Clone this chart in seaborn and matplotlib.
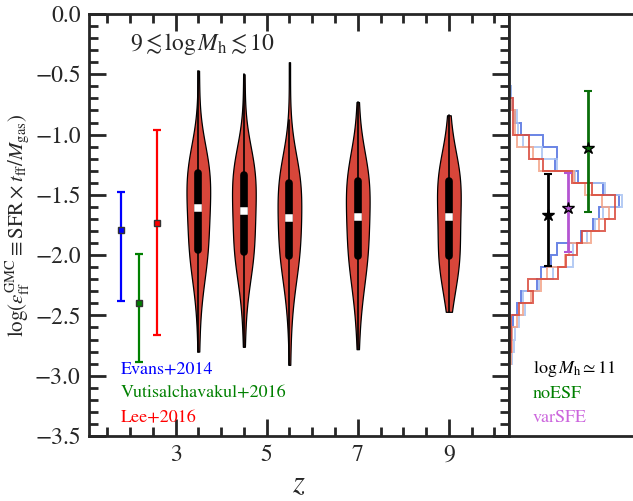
import numpy as np
import pandas as pd
import matplotlib
matplotlib.use("Agg")
import matplotlib.pyplot as plt
import seaborn as sns
from matplotlib.ticker import MultipleLocator

# GMC efficiency samples per redshift (9 < log Mh < 10)
z_vals = [3.5, 4.5, 5.5, 7, 9]
eff_z35 = [-2.80, -2.52, -2.38, -2.29, -2.22, -2.17, -2.13, -2.09, -2.06, -2.03, -2.00, -1.98, -1.96,
           -1.93, -1.90, -1.87, -1.84, -1.81, -1.78, -1.75, -1.72, -1.69, -1.66, -1.635, -1.61,
           -1.585, -1.56, -1.535, -1.51, -1.49, -1.465, -1.44, -1.415, -1.39, -1.37, -1.345, -1.32,
           -1.30, -1.28, -1.26, -1.24, -1.22, -1.19, -1.16, -1.13, -1.09, -1.03, -0.85, -0.47]
eff_z45 = [-2.76, -2.50, -2.37, -2.28, -2.22, -2.17, -2.13, -2.09, -2.06, -2.03, -2.01, -1.99, -1.97,
           -1.94, -1.91, -1.885, -1.86, -1.83, -1.80, -1.77, -1.74, -1.71, -1.685, -1.66, -1.63,
           -1.605, -1.58, -1.555, -1.53, -1.51, -1.485, -1.46, -1.435, -1.41, -1.385, -1.36, -1.335,
           -1.315, -1.295, -1.275, -1.255, -1.235, -1.21, -1.18, -1.15, -1.11, -1.05, -0.87, -0.50]
eff_z55 = [-2.91, -2.60, -2.45, -2.36, -2.29, -2.23, -2.18, -2.14, -2.10, -2.07, -2.04, -2.025, -2.01,
           -1.98, -1.955, -1.93, -1.90, -1.875, -1.85, -1.82, -1.795, -1.77, -1.74, -1.715, -1.69,
           -1.665, -1.64, -1.62, -1.595, -1.57, -1.545, -1.52, -1.495, -1.47, -1.45, -1.425, -1.40,
           -1.38, -1.36, -1.34, -1.32, -1.30, -1.27, -1.24, -1.21, -1.17, -1.10, -0.88, -0.40]
eff_z7 = [-2.78, -2.55, -2.44, -2.36, -2.30, -2.25, -2.20, -2.16, -2.12, -2.09, -2.06, -2.035, -2.01,
          -1.985, -1.96, -1.93, -1.90, -1.875, -1.85, -1.82, -1.79, -1.765, -1.735, -1.71, -1.68,
          -1.655, -1.63, -1.605, -1.58, -1.555, -1.53, -1.51, -1.485, -1.46, -1.435, -1.41, -1.385,
          -1.365, -1.345, -1.325, -1.30, -1.275, -1.25, -1.22, -1.18, -1.14, -1.08, -0.97, -0.73]
eff_z9 = [-2.47, -2.38, -2.32, -2.27, -2.23, -2.19, -2.16, -2.13, -2.10, -2.07, -2.05, -2.03, -2.01,
          -1.985, -1.96, -1.93, -1.90, -1.875, -1.85, -1.82, -1.79, -1.765, -1.735, -1.71, -1.68,
          -1.655, -1.63, -1.605, -1.58, -1.555, -1.53, -1.51, -1.485, -1.46, -1.435, -1.41, -1.385,
          -1.365, -1.345, -1.325, -1.30, -1.275, -1.25, -1.22, -1.19, -1.15, -1.10, -1.00, -0.84]

# observations
obs_names = ["Evans+2014", "Vutisalchavakul+2016", "Lee+2016"]
obs_colors = ["blue", "green", "red"]
obs_z = [1.8, 2.2, 2.6]
obs_val = [-1.79, -2.40, -1.73]
obs_lo = [-2.38, -2.89, -2.66]
obs_hi = [-1.48, -1.99, -0.96]

# log Mh ~ 11 histograms (counts per 0.1 dex bin)
hist_edges = [-2.9, -2.8, -2.7, -2.6, -2.5, -2.4, -2.3, -2.2, -2.1, -2.0, -1.9, -1.8, -1.7,
              -1.6, -1.5, -1.4, -1.3, -1.2, -1.1, -1.0, -0.9, -0.8, -0.7, -0.6, -0.5, -0.4]
hist_blue = [1, 2, 3, 4, 8, 12, 28, 32, 42, 48, 72, 84, 90, 110, 94, 69, 46, 48, 34, 12, 6, 3, 2, 1, 1]
hist_lightblue = [3, 5, 6, 10, 16, 14, 30, 44, 64, 64, 78, 86, 94, 113, 96, 66, 48, 33, 14, 9, 8, 4, 2, 1, 1]
hist_salmon = [2, 3, 3, 8, 14, 22, 32, 38, 56, 60, 82, 90, 100, 93, 76, 65, 30, 24, 8, 6, 6, 2, 0, 0, 0]
hist_red = [0, 2, 2, 2, 10, 24, 19, 49, 57, 68, 73, 96, 106, 106, 83, 63, 34, 20, 20, 4, 4, 4, 0, 0, 0]
hist_colors = ["#4f6fe0", "#a8c2f2", "#f4a488", "#d9483a"]

# log Mh ~ 11 runs
run_names = [r"$\log M_{\rm h} \simeq 11$", "noESF", "varSFE"]
run_colors = ["black", "#0a6e0a", "#b455d2"]
run_text_colors = ["black", "green", "#cc66dd"]
run_x = [39, 79, 59]
run_val = [-1.67, -1.11, -1.61]
run_lo = [-2.09, -1.64, -1.97]
run_hi = [-1.33, -0.64, -1.32]

sns.set_style("ticks")
plt.rcParams["font.family"] = ["STIXGeneral", "DejaVu Serif"]
plt.rcParams["mathtext.fontset"] = "stix"

df = pd.DataFrame({
    "z": np.repeat(z_vals, [len(eff_z35), len(eff_z45), len(eff_z55), len(eff_z7), len(eff_z9)]),
    "logeff": eff_z35 + eff_z45 + eff_z55 + eff_z7 + eff_z9,
})

fig = plt.figure(figsize=(6.33, 5.01), dpi=100)
ax = fig.add_axes([89 / 633, 1 - 436 / 501, 420 / 633, 422 / 501])
axr = fig.add_axes([509 / 633, 1 - 436 / 501, 124 / 633, 422 / 501])

sns.violinplot(data=df, x="z", y="logeff", native_scale=True, orient="x", ax=ax,
               color="#d8463a", saturation=1, linecolor="k", linewidth=0.9, cut=0,
               bw_adjust=1.0, width=0.52, density_norm="width", inner="box",
               inner_kws=dict(box_width=5.5, whis_width=1.2, marker="s"))

for name, c, zz, v, lo, hi in zip(obs_names, obs_colors, obs_z, obs_val, obs_lo, obs_hi):
    ax.errorbar(zz, v, yerr=[[v - lo], [hi - v]], fmt="s", color=c, mec="0.2", ms=5,
                elinewidth=1.6, capsize=3, capthick=1.6)

for i, (name, c) in enumerate(zip(obs_names, obs_colors)):
    ax.text(1.8, [-2.945, -3.15, -3.35][i], name, color=c, fontsize=13, ha="left", va="center")

ax.text(3.6, -0.25, r"$9 \lesssim \log M_{\rm h} \lesssim 10$", fontsize=17, ha="center", va="center")

ax.set_xlim(1.1, 10.32)
ax.set_ylim(-3.5, 0.0)
ax.set_xticks([3, 5, 7, 9])
ax.xaxis.set_minor_locator(MultipleLocator(0.5))
ax.yaxis.set_major_locator(MultipleLocator(0.5))
ax.yaxis.set_minor_locator(MultipleLocator(0.1))
ax.tick_params(which="both", direction="in", top=True, right=True, width=2, labelsize=17)
ax.tick_params(which="major", length=12.5, pad=6)
ax.tick_params(which="minor", length=6.5)
ax.set_xlabel("$z$", fontsize=22, labelpad=4)
ax.set_ylabel(r"$\log(\epsilon_{\rm ff}^{\rm GMC} \equiv {\rm SFR} \times t_{\rm ff}/M_{\rm gas})$",
              fontsize=15, labelpad=2)
for s in ax.spines.values():
    s.set_linewidth(2)

# right panel
for counts, c in zip([hist_blue, hist_lightblue, hist_salmon, hist_red], hist_colors):
    axr.stairs(counts, hist_edges, orientation="horizontal", color=c, lw=1.4, alpha=0.85)

for c, xx, v, lo, hi in zip(run_colors, run_x, run_val, run_lo, run_hi):
    axr.errorbar(xx, v, yerr=[[v - lo], [hi - v]], fmt="*", color=c, mec="k", ms=9,
                 elinewidth=2, capsize=3, capthick=1.5)

for i, (name, c) in enumerate(zip(run_names, run_text_colors)):
    axr.text(24, [-2.945, -3.15, -3.35][i], name, color=c, fontsize=13, ha="left", va="center")

axr.set_xlim(0, 124)
axr.set_ylim(-3.5, 0.0)
axr.tick_params(left=False, bottom=False, labelleft=False, labelbottom=False)
axr.spines["right"].set_visible(False)
for s in ["top", "bottom", "left"]:
    axr.spines[s].set_linewidth(2)

fig.savefig("out.png", dpi=100)
